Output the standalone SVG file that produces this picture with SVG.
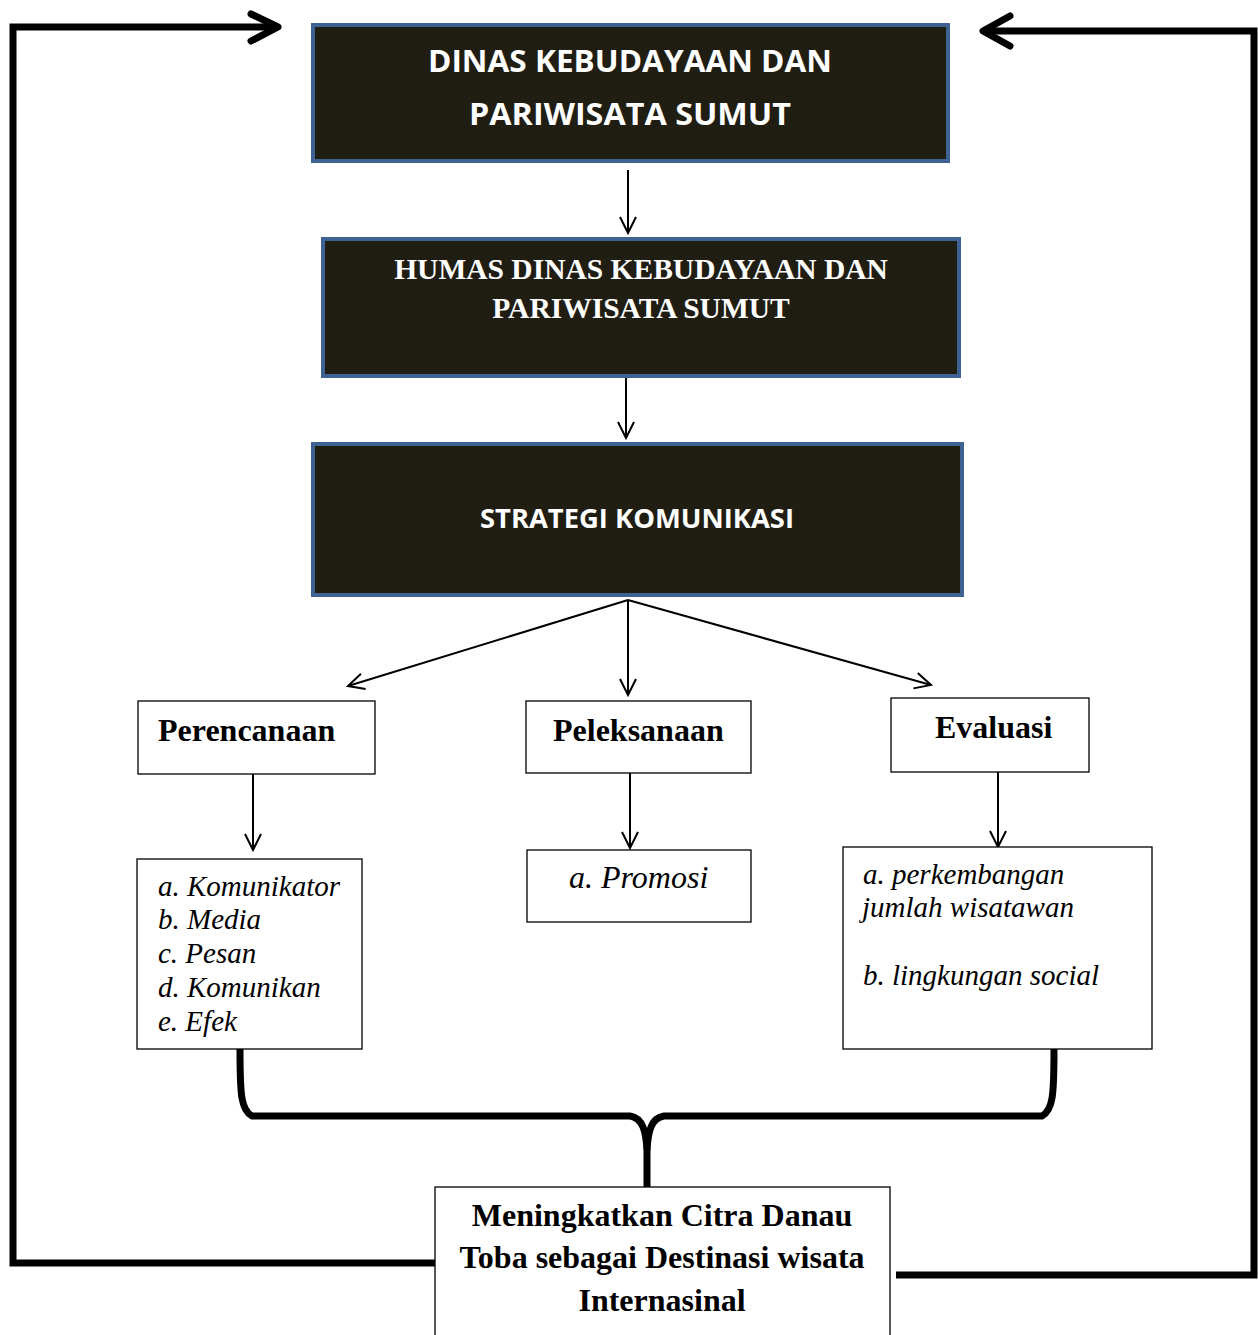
<svg xmlns="http://www.w3.org/2000/svg" width="1258" height="1335" viewBox="0 0 1258 1335">
<style>
.dark{fill:#201d13;stroke:#3f6294;stroke-width:4}
.box{fill:#fff;stroke:#000;stroke-width:1.3}
.ts{font-family:"Open Sans","Liberation Sans",sans-serif;font-weight:bold;fill:#fff;text-anchor:middle}
.tsr{font-family:"Liberation Serif",serif;font-weight:bold;fill:#fff;text-anchor:middle}
.hd{font-family:"Liberation Serif",serif;font-weight:bold;fill:#000;font-size:32px}
.it{font-family:"Liberation Serif",serif;font-style:italic;fill:#000;font-size:29px}
.thin{fill:none;stroke:#000;stroke-width:2}
.thick{fill:none;stroke:#000;stroke-width:7}
</style>
<defs>
<marker id="ah" viewBox="0 0 20 20" refX="18" refY="10" markerWidth="20" markerHeight="20" markerUnits="userSpaceOnUse" orient="auto">
<path d="M2,2 L18,10 L2,18" fill="none" stroke="#000" stroke-width="2"/>
</marker>
</defs>
<g id="connectors">
<line class="thin" x1="628" y1="170" x2="628" y2="233" marker-end="url(#ah)"/>
<line class="thin" x1="626" y1="378" x2="626" y2="438" marker-end="url(#ah)"/>
<line class="thin" x1="628" y1="600" x2="348" y2="686" marker-end="url(#ah)"/>
<line class="thin" x1="628" y1="600" x2="628" y2="695" marker-end="url(#ah)"/>
<line class="thin" x1="628" y1="600" x2="931" y2="685" marker-end="url(#ah)"/>
<line class="thin" x1="253" y1="774" x2="253" y2="850" marker-end="url(#ah)"/>
<line class="thin" x1="630" y1="773" x2="630" y2="848" marker-end="url(#ah)"/>
<line class="thin" x1="998" y1="772" x2="998" y2="847" marker-end="url(#ah)"/>
<path class="thick" d="M240,1049 C240,1095 241,1110 252,1116 L630,1116 C643,1118 646,1132 647,1150 L647,1187"/>
<path class="thick" d="M1054,1049 C1054,1095 1053,1110 1042,1116 L664,1116 C651,1118 648,1132 647,1150"/>
<path class="thick" d="M435,1263 L13,1263 L13,27 L276,27"/>
<path d="M251,14 L278,27 L251,41" fill="none" stroke="#000" stroke-width="7" stroke-linecap="round" stroke-linejoin="round"/>
<path class="thick" d="M896,1275 L1254,1275 L1254,31 L984,31"/>
<path d="M1010,16 L983,31 L1010,46" fill="none" stroke="#000" stroke-width="7" stroke-linecap="round" stroke-linejoin="round"/>
</g>
<g id="n1">
<rect class="dark" x="313" y="25" width="635" height="136"/>
<text class="ts" x="630" y="72" font-size="30" textLength="404" lengthAdjust="spacingAndGlyphs">DINAS KEBUDAYAAN DAN</text>
<text class="ts" x="630" y="125" font-size="30" textLength="322" lengthAdjust="spacingAndGlyphs">PARIWISATA SUMUT</text>
</g>
<g id="n2">
<rect class="dark" x="323" y="239" width="636" height="137"/>
<text class="tsr" x="641" y="279" font-size="29.5">HUMAS DINAS KEBUDAYAAN DAN</text>
<text class="tsr" x="641" y="318" font-size="29.5">PARIWISATA SUMUT</text>
</g>
<g id="n3">
<rect class="dark" x="313" y="444" width="649" height="151"/>
<text class="ts" x="637" y="528" font-size="26" textLength="314" lengthAdjust="spacingAndGlyphs">STRATEGI KOMUNIKASI</text>
</g>
<g id="n4">
<rect class="box" x="138" y="701" width="237" height="73"/>
<text class="hd" x="158" y="741">Perencanaan</text>
</g>
<g id="n5">
<rect class="box" x="526" y="701" width="225" height="72"/>
<text class="hd" x="553" y="741">Peleksanaan</text>
</g>
<g id="n6">
<rect class="box" x="891" y="698" width="198" height="74"/>
<text class="hd" x="935" y="738">Evaluasi</text>
</g>
<g id="n7">
<rect class="box" x="137" y="859" width="225" height="190"/>
<text class="it" x="158" y="896">a. Komunikator</text>
<text class="it" x="158" y="929">b. Media</text>
<text class="it" x="158" y="963">c. Pesan</text>
<text class="it" x="158" y="997">d. Komunikan</text>
<text class="it" x="158" y="1031">e. Efek</text>
</g>
<g id="n8">
<rect class="box" x="527" y="850" width="224" height="72"/>
<text class="it" x="569" y="888" style="font-size:32px">a. Promosi</text>
</g>
<g id="n9">
<rect class="box" x="843" y="847" width="309" height="202"/>
<text class="it" x="863" y="884">a. perkembangan</text>
<text class="it" x="862" y="917">jumlah wisatawan</text>
<text class="it" x="863" y="985">b. lingkungan social</text>
</g>
<g id="n10">
<rect class="box" x="435" y="1187" width="455" height="160"/>
<text class="hd" x="662" y="1226" text-anchor="middle">Meningkatkan Citra Danau</text>
<text class="hd" x="662" y="1268" text-anchor="middle">Toba sebagai Destinasi wisata</text>
<text class="hd" x="662" y="1311" text-anchor="middle">Internasinal</text>
</g>
</svg>
